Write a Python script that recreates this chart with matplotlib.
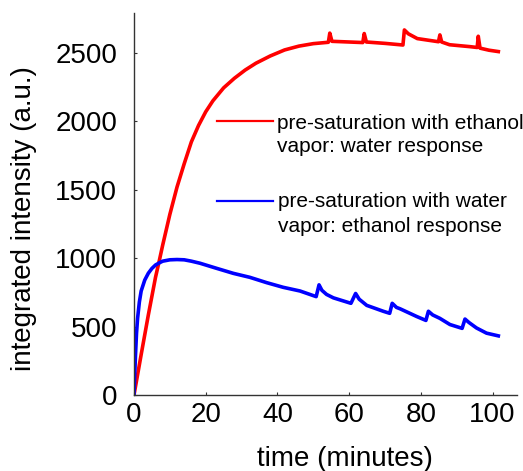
import matplotlib
matplotlib.use("Agg")
import matplotlib.pyplot as plt

plt.rcParams['font.family'] = ['Liberation Sans', 'DejaVu Sans']

# red: pre-saturation with ethanol vapor -> water response
red_t = [0, 2, 4, 6, 7, 8, 10, 12, 14, 16, 18, 20, 22, 25, 28, 31, 34, 38, 42, 46,
         50, 54.2, 54.6, 55.2, 60, 63.8, 64.2, 64.8, 70, 75.0, 75.4, 76.5, 79,
         84.9, 85.3, 85.8, 88, 93.7, 95.7, 96.0, 96.5, 99, 101.6]
red_v = [0, 295, 585, 860, 975, 1095, 1320, 1520, 1690, 1850, 1970, 2070, 2150, 2245,
         2315, 2375, 2425, 2478, 2522, 2550, 2568, 2578, 2645, 2585, 2580, 2576, 2642,
         2580, 2570, 2558, 2668, 2640, 2605, 2582, 2632, 2580, 2560, 2546, 2540, 2622,
         2535, 2520, 2510]

# blue: pre-saturation with water vapor -> ethanol response
blue_t = [0, 0.2, 0.4, 0.7, 1.0, 1.5, 2, 3, 4, 5, 6, 7, 8, 10, 12, 14, 16, 18.4, 23,
          27.7, 32.3, 37, 41.6, 46.3, 50.8, 51.6, 52.4, 53.7, 55.6, 60.5, 61.8, 62.8,
          64.9, 69.5, 71.3, 72.0, 73.2, 74.2, 78.8, 81.4, 82.1, 83.3, 85.3, 88.1,
          91.5, 92.3, 93.4, 95.5, 98.3, 101.6]
blue_v = [0, 150, 280, 450, 560, 680, 760, 840, 890, 925, 950, 965, 978, 988, 990,
          988, 978, 963, 926, 889, 860, 821, 787, 760, 719, 805, 765, 735, 710, 670,
          742, 700, 655, 612, 597, 670, 640, 630, 574, 545, 612, 585, 560, 515,
          487, 555, 530, 490, 452, 432]

xticks = [0, 20, 40, 60, 80, 100]
yticks = [0, 500, 1000, 1500, 2000, 2500]
red_label = ["pre-saturation with ethanol", "vapor: water response"]
blue_label = ["pre-saturation with water", "vapor: ethanol response"]

fig = plt.figure(figsize=(5.23, 4.71), dpi=100)
ax = fig.add_axes([0.2562, 0.1614, 0.7323, 0.8110])

ax.plot(red_t, red_v, color='#ff0000', lw=2.6, solid_joinstyle='round')
ax.plot(blue_t, blue_v, color='#0000ff', lw=2.6, solid_joinstyle='round')

ax.set_xlim(0, 106.8)
ax.set_ylim(0, 2792)
ax.set_xticks(xticks)
ax.set_yticks(yticks)

for s in ['top', 'right']:
    ax.spines[s].set_visible(False)
for s in ['left', 'bottom']:
    ax.spines[s].set_color('#333333')
    ax.spines[s].set_linewidth(1.0)

ax.tick_params(axis='both', direction='in', length=2.5, width=0.8,
               color='#333333', labelsize=20)
ax.tick_params(axis='y', pad=12)
ax.tick_params(axis='x', pad=5)

ax.set_xlabel("time (minutes)", fontsize=20)
ax.set_ylabel("integrated intensity (a.u.)", fontsize=20)
ax.xaxis.set_label_coords(0.551, -0.134)
ax.yaxis.set_label_coords(-0.253, 0.463)

# legend keys drawn by hand (handle sits at first text line)
ax.plot([0.217, 0.363], [0.717, 0.717], color='#ff0000', lw=1.6,
        transform=ax.transAxes)
ax.text(0.373, 0.696, red_label[0], fontsize=15, transform=ax.transAxes, va='baseline')
ax.text(0.373, 0.636, red_label[1], fontsize=15, transform=ax.transAxes, va='baseline')
ax.plot([0.217, 0.363], [0.508, 0.508], color='#0000ff', lw=1.6,
        transform=ax.transAxes)
ax.text(0.376, 0.493, blue_label[0], fontsize=15, transform=ax.transAxes, va='baseline')
ax.text(0.376, 0.427, blue_label[1], fontsize=15, transform=ax.transAxes, va='baseline')

fig.savefig("out.png", dpi=100)
